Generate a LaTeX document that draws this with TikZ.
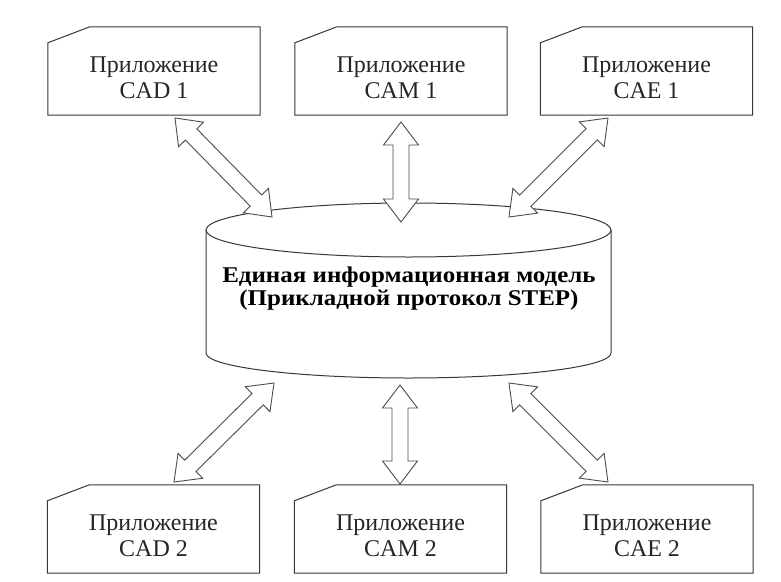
\documentclass[tikz,border=0pt]{standalone}
\usepackage{fontspec}
\setmainfont{Liberation Serif}
\usetikzlibrary{calc}
\tikzset{
  outline/.style={draw=black!78, line width=1pt, line join=miter},
  boxnode/.style={minimum width=212pt, minimum height=88pt, inner sep=0pt},
  boxtext/.style={font=\fontsize{24}{26}\selectfont, align=center, anchor=base, text=black!85},
  dbtext/.style={font=\bfseries\fontsize{22.5}{23}\selectfont, anchor=base, inner sep=0pt},
  blockarrow/.style={draw=black!70, line width=0.9pt, fill=white, line join=miter},
}
\newcommand\cutbox[1]{%
  \draw[outline] (#1.south west) -- (#1.south east) -- (#1.north east)
    -- ([xshift=42pt]#1.north west) -- ([yshift=-16pt]#1.north west) -- cycle;}
\newcommand\dblarrow[2]{%
  \draw[blockarrow] (#1)
    -- ($(#1)!23pt!(#2)!17.5pt!90:(#2)$)
    -- ($(#1)!23pt!(#2)!8pt!90:(#2)$)
    -- ($(#2)!23pt!(#1)!8pt!-90:(#1)$)
    -- ($(#2)!23pt!(#1)!17.5pt!-90:(#1)$)
    -- (#2)
    -- ($(#2)!23pt!(#1)!17.5pt!90:(#1)$)
    -- ($(#2)!23pt!(#1)!8pt!90:(#1)$)
    -- ($(#1)!23pt!(#2)!8pt!-90:(#2)$)
    -- ($(#1)!23pt!(#2)!17.5pt!-90:(#2)$)
    -- cycle;}
\begin{document}
\begin{tikzpicture}[x=1pt, y=-1pt]
\fill[white] (0,0) rectangle (781,581);
\useasboundingbox (0,0) rectangle (781,581);

% boxes
\node[boxnode] (cad1) at (154,71) {};
\node[boxnode] (cam1) at (401,71) {};
\node[boxnode] (cae1) at (646.5,71) {};
\node[boxnode] (cad2) at (153.5,529) {};
\node[boxnode] (cam2) at (400.5,529) {};
\node[boxnode] (cae2) at (647,529) {};
\cutbox{cad1}\cutbox{cam1}\cutbox{cae1}
\cutbox{cad2}\cutbox{cam2}\cutbox{cae2}

\node[boxtext] (cad1t) at (154,98) {Приложение\\CAD 1};
\node[boxtext] (cam1t) at (401,98) {Приложение\\CAM 1};
\node[boxtext] (cae1t) at (646.5,98) {Приложение\\CAE 1};
\node[boxtext] (cad2t) at (153.5,556) {Приложение\\CAD 2};
\node[boxtext] (cam2t) at (400.5,556) {Приложение\\CAM 2};
\node[boxtext] (cae2t) at (647,556) {Приложение\\CAE 2};

% cylinder
\draw[outline, fill=white] (206,230) -- (206,353) arc[start angle=180, end angle=360, x radius=202.5, y radius=-25] -- (611,230);
\draw[outline] (408.5,230) ellipse[x radius=202.5, y radius=27];
\node[dbtext] (db) at (409,305) {\scalebox{1.11}[1]{\begin{tabular}[b]{@{}c@{}}Единая информационная модель\\(Прикладной протокол STEP)\end{tabular}}};

% arrow ends
\coordinate (a1) at (175,118);  \coordinate (b1) at (272,217);
\coordinate (a2) at (401,122);  \coordinate (b2) at (401,222);
\coordinate (a3) at (608,118);  \coordinate (b3) at (509,217);
\coordinate (a4) at (274,383);  \coordinate (b4) at (174,482);
\coordinate (a5) at (400,385);  \coordinate (b5) at (400,484);
\coordinate (a6) at (509,383);  \coordinate (b6) at (608,482);
\dblarrow{a1}{b1}
\dblarrow{a2}{b2}
\dblarrow{a3}{b3}
\dblarrow{a4}{b4}
\dblarrow{a5}{b5}
\dblarrow{a6}{b6}
\end{tikzpicture}
\end{document}
